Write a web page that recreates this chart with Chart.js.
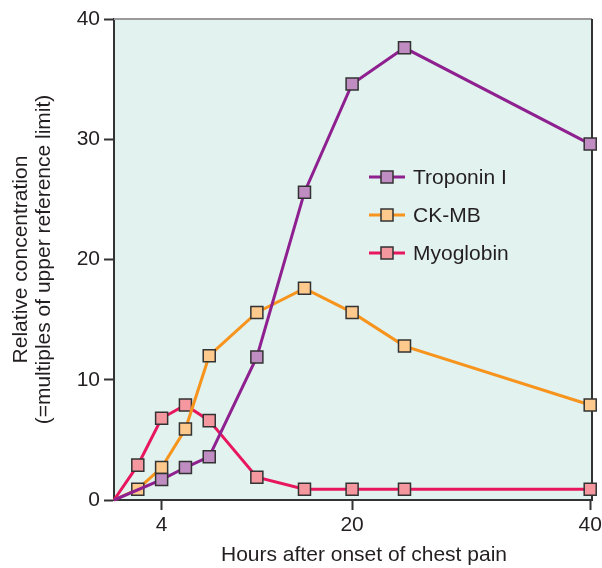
<!DOCTYPE html>
<html>
<head>
<meta charset="utf-8">
<script src="https://cdn.jsdelivr.net/npm/chart.js@4"></script>
<style>
  html, body { margin: 0; padding: 0; background: #fff; }
  #wrap { width: 602px; height: 568px; }
</style>
</head>
<body>
<div id="wrap"><canvas id="chart" width="602" height="568"></canvas></div>
<script>
// hours after onset
const troponinHours = [0, 4, 6, 8, 12, 16, 20, 24.4, 40];
const troponinValues = [0, 1.7, 2.7, 3.6, 11.9, 25.6, 34.6, 37.6, 29.6];

const ckmbHours = [0, 2, 4, 6, 8, 12, 16, 20, 24.4, 40];
const ckmbValues = [0, 0.9, 2.7, 5.9, 12, 15.6, 17.6, 15.6, 12.8, 7.9];

const myoHours = [0, 2, 4, 6, 8, 12, 16, 20, 24.4, 40];
const myoValues = [0, 2.9, 6.8, 7.9, 6.6, 1.9, 0.9, 0.9, 0.9, 0.9];

const xTickValues = [4, 20, 40];
const yTickValues = [0, 10, 20, 30, 40];

const seriesNames = ["Troponin I", "CK-MB", "Myoglobin"];
const lineColors = ["#8e2090", "#f7941d", "#e8175d"];
const markerColors = ["#c08dc3", "#fdc98c", "#f4979e"];

const FONT = "'Liberation Sans', Arial, Helvetica, sans-serif";
const TEXT = "#231f20";
const FONT_SIZE = 21;

function toPoints(xs, ys) {
  return xs.map((x, i) => ({ x, y: ys[i] }));
}

function makeDataset(i, xs, ys) {
  return {
    label: seriesNames[i],
    data: toPoints(xs, ys),
    borderColor: lineColors[i],
    backgroundColor: markerColors[i],
    borderWidth: 3,
    tension: 0,
    pointStyle: "rect",
    pointRadius: (ctx) => (ctx.dataIndex === 0 ? 0 : 8.5),
    pointHoverRadius: (ctx) => (ctx.dataIndex === 0 ? 0 : 8.5),
    pointBackgroundColor: markerColors[i],
    pointBorderColor: "#333",
    pointBorderWidth: 1.5,
    clip: false,
  };
}

// background + frame behind the lines
const framePlugin = {
  id: "frame",
  beforeDraw(chart) {
    const { ctx, chartArea: a } = chart;
    ctx.save();
    ctx.fillStyle = "#fff";
    ctx.fillRect(0, 0, chart.width, chart.height);
    ctx.fillStyle = "#e2f2ef";
    ctx.fillRect(a.left, a.top, a.right - a.left, a.bottom - a.top);
    ctx.restore();
  },
  beforeDatasetsDraw(chart) {
    const { ctx, chartArea: a } = chart;
    ctx.save();
    ctx.lineWidth = 2;
    ctx.strokeStyle = "#9a9a9a";
    ctx.beginPath();
    ctx.moveTo(a.left, a.top);
    ctx.lineTo(a.right, a.top);
    ctx.stroke();
    ctx.strokeStyle = "#333";
    ctx.beginPath();
    ctx.moveTo(a.right, a.top);
    ctx.lineTo(a.right, a.bottom);
    ctx.stroke();
    ctx.restore();
  },
  afterDraw(chart) {
    const { ctx } = chart;
    ctx.save();
    // x axis title
    ctx.font = FONT_SIZE + "px " + FONT;
    ctx.fillStyle = TEXT;
    ctx.textAlign = "center";
    ctx.textBaseline = "middle";
    ctx.fillText("Hours after onset of chest pain", 364, 555);

    // legend inside the plot
    const rowsY = [177, 215, 253];
    chart.data.datasets.forEach((ds, i) => {
      const y = rowsY[i];
      ctx.strokeStyle = ds.borderColor;
      ctx.lineWidth = 3;
      ctx.beginPath();
      ctx.moveTo(369, y);
      ctx.lineTo(405, y);
      ctx.stroke();
      ctx.fillStyle = ds.pointBackgroundColor;
      ctx.fillRect(381, y - 6, 12, 12);
      ctx.strokeStyle = "#333";
      ctx.lineWidth = 1.5;
      ctx.strokeRect(381, y - 6, 12, 12);
      ctx.fillStyle = TEXT;
      ctx.textAlign = "left";
      ctx.fillText(ds.label, 413, y + 1);
    });
    ctx.restore();
  },
};

new Chart(document.getElementById("chart"), {
  type: "line",
  data: {
    datasets: [
      makeDataset(0, troponinHours, troponinValues),
      makeDataset(1, ckmbHours, ckmbValues),
      makeDataset(2, myoHours, myoValues),
    ],
  },
  options: {
    responsive: false,
    animation: false,
    events: [],
    layout: { padding: { left: 0, right: 10, top: 19, bottom: 0 } },
    plugins: {
      legend: { display: false },
      tooltip: { enabled: false },
    },
    scales: {
      x: {
        type: "linear",
        min: 0,
        max: 40.15,
        afterBuildTicks: (scale) => {
          scale.ticks = xTickValues.map((v) => ({ value: v }));
        },
        afterFit: (scale) => {
          scale.height = 68;
          scale.paddingRight = 0;
          scale.paddingLeft = 0;
        },
        ticks: {
          color: TEXT,
          font: { family: FONT, size: FONT_SIZE },
          padding: 3,
          maxRotation: 0,
        },
        grid: {
          drawOnChartArea: false,
          drawTicks: true,
          tickLength: 10,
          tickWidth: 2,
          tickColor: "#333",
        },
        border: { display: true, color: "#333", width: 2 },
      },
      y: {
        min: 0,
        max: 40,
        afterBuildTicks: (scale) => {
          scale.ticks = yTickValues.map((v) => ({ value: v }));
        },
        afterFit: (scale) => {
          scale.width = 114;
        },
        ticks: {
          color: TEXT,
          font: { family: FONT, size: FONT_SIZE },
          padding: 4,
        },
        grid: {
          drawOnChartArea: false,
          drawTicks: true,
          tickLength: 10,
          tickWidth: 2,
          tickColor: "#333",
        },
        border: { display: true, color: "#333", width: 2 },
        title: {
          display: true,
          text: ["Relative concentration", "(=multiples of upper reference limit)"],
          color: TEXT,
          font: { family: FONT, size: FONT_SIZE, lineHeight: 1.1 },
          padding: { top: 10, bottom: 0 },
        },
      },
    },
  },
  plugins: [framePlugin],
});
</script>
</body>
</html>
